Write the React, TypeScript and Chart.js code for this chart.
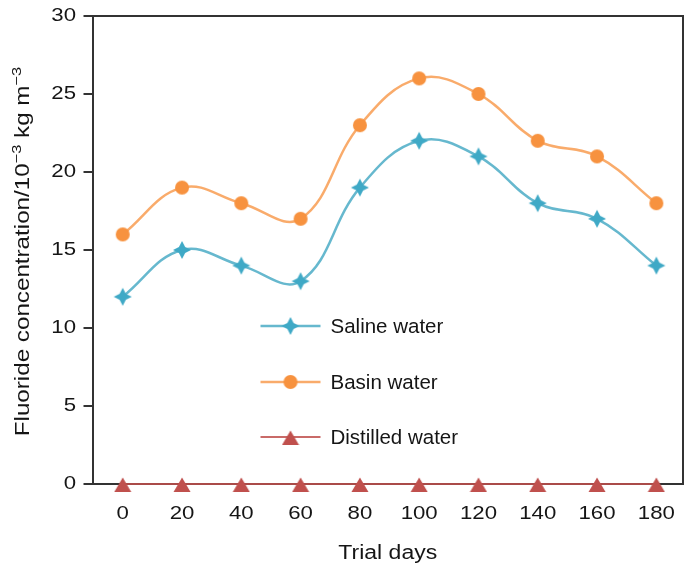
import React, { useEffect, useRef } from 'react';
import { Chart, registerables } from 'chart.js';

Chart.register(...registerables);

const days = [0, 20, 40, 60, 80, 100, 120, 140, 160, 180];
const saline = [12, 15, 14, 13, 19, 22, 21, 18, 17, 14];
const basin = [16, 19, 18, 17, 23, 26, 25, 22, 21, 18];
const distilled = [0, 0, 0, 0, 0, 0, 0, 0, 0, 0];
const yTicks = [0, 5, 10, 15, 20, 25, 30];
const seriesNames = ['Saline water', 'Basin water', 'Distilled water'];
const xTitle = 'Trial days';
const yTitleParts = [
  { t: 'Fluoride concentration/10', sup: false },
  { t: '\u22123', sup: true },
  { t: ' kg m', sup: false },
  { t: '\u22123', sup: true },
];

const FONT = '"Liberation Sans", Arial, Helvetica, sans-serif';
const TEXT = '#151515';
const AXIS = '#333333';
const BLUE = '#3fa9c6';
const ORANGE = '#f7923f';
const RED = '#c0504d';

function makeStar(color: string) {
  const c = document.createElement('canvas');
  const s = 20;
  c.width = s;
  c.height = s;
  const ctx = c.getContext('2d')!;
  const cx = s / 2;
  const R = 9;
  const r = 4.4;
  ctx.beginPath();
  for (let i = 0; i < 8; i++) {
    const ang = -Math.PI / 2 + (i * Math.PI) / 4;
    const rr = i % 2 === 0 ? R : r;
    ctx.lineTo(cx + rr * Math.cos(ang), cx + rr * Math.sin(ang));
  }
  ctx.closePath();
  ctx.fillStyle = color;
  ctx.fill();
  return c;
}

function makeCircle(color: string) {
  const c = document.createElement('canvas');
  c.width = 16;
  c.height = 16;
  const ctx = c.getContext('2d')!;
  ctx.beginPath();
  ctx.arc(8, 8, 7, 0, Math.PI * 2);
  ctx.fillStyle = color;
  ctx.fill();
  return c;
}

function makeTriangle(color: string) {
  const c = document.createElement('canvas');
  c.width = 18;
  c.height = 18;
  const ctx = c.getContext('2d')!;
  ctx.beginPath();
  ctx.moveTo(9, 2.5);
  ctx.lineTo(17.5, 17);
  ctx.lineTo(0.5, 17);
  ctx.closePath();
  ctx.fillStyle = color;
  ctx.fill();
  return c;
}

type Part = { t: string; sup: boolean };

function drawParts(
  ctx: CanvasRenderingContext2D,
  parts: Part[],
  x: number,
  y: number,
  size: number,
  align: 'left' | 'center' | 'right',
  baseline: CanvasTextBaseline,
  sx: number,
  rotate: number
) {
  ctx.save();
  ctx.translate(x, y);
  if (rotate) ctx.rotate(rotate);
  ctx.scale(sx, 1);
  const fontOf = (p: Part) => `${p.sup ? size * 0.68 : size}px ${FONT}`;
  const widths = parts.map((p) => {
    ctx.font = fontOf(p);
    return ctx.measureText(p.t).width;
  });
  const total = widths.reduce((a, b) => a + b, 0);
  let cx = align === 'center' ? -total / 2 : align === 'right' ? -total : 0;
  ctx.textAlign = 'left';
  ctx.textBaseline = baseline;
  ctx.fillStyle = TEXT;
  parts.forEach((p, i) => {
    ctx.font = fontOf(p);
    ctx.fillText(p.t, cx, p.sup ? -size * 0.4 : 0);
    cx += widths[i];
  });
  ctx.restore();
}

export default function App() {
  const ref = useRef<HTMLCanvasElement>(null);

  useEffect(() => {
    if (!ref.current) return;
    const star = makeStar(BLUE);
    const circle = makeCircle(ORANGE);
    const tri = makeTriangle(RED);
    const markers = [star, circle, tri];

    const textPlugin = {
      id: 'customText',
      afterDraw(chart: any) {
        const { ctx, chartArea } = chart;
        const xs = chart.scales.x;
        const ys = chart.scales.y;
        // frame (top + right)
        ctx.save();
        ctx.strokeStyle = AXIS;
        ctx.lineWidth = 2;
        ctx.beginPath();
        ctx.moveTo(chartArea.left, chartArea.top);
        ctx.lineTo(chartArea.right, chartArea.top);
        ctx.lineTo(chartArea.right, chartArea.bottom);
        ctx.stroke();
        ctx.restore();

        // y tick labels
        yTicks.forEach((v) => {
          drawParts(ctx, [{ t: String(v), sup: false }], chartArea.left - 16.5, ys.getPixelForValue(v), 18.5, 'right', 'middle', 1.2, 0);
        });
        // x tick labels
        days.forEach((d) => {
          drawParts(ctx, [{ t: String(d), sup: false }], xs.getPixelForValue(d), chartArea.bottom + 30, 18.5, 'center', 'middle', 1.2, 0);
        });
        // axis titles
        drawParts(ctx, [{ t: xTitle, sup: false }], (chartArea.left + chartArea.right) / 2, chartArea.bottom + 75, 19.5, 'center', 'alphabetic', 1.18, 0);
        drawParts(ctx, yTitleParts, 29, (chartArea.top + chartArea.bottom) / 2 + 1.5, 19.5, 'center', 'alphabetic', 1.24, -Math.PI / 2);

        // legend
        const lx0 = chartArea.left + 168;
        const lx1 = lx0 + 60;
        const lys = [chartArea.top + 310, chartArea.top + 366, chartArea.top + 421];
        chart.data.datasets.forEach((ds: any, i: number) => {
          const y = lys[i];
          ctx.save();
          ctx.strokeStyle = ds.borderColor;
          ctx.lineWidth = ds.borderWidth;
          ctx.beginPath();
          ctx.moveTo(lx0, y);
          ctx.lineTo(lx1, y);
          ctx.stroke();
          const m = markers[i];
          ctx.drawImage(m, (lx0 + lx1) / 2 - m.width / 2, y - m.height / 2);
          ctx.restore();
          ctx.save();
          ctx.font = `20.5px ${FONT}`;
          ctx.fillStyle = TEXT;
          ctx.textAlign = 'left';
          ctx.textBaseline = 'middle';
          ctx.fillText(ds.label, lx1 + 10, y + 1);
          ctx.restore();
        });
      },
    };

    const toPts = (arr: number[]) => arr.map((v, i) => ({ x: days[i], y: v }));

    const chart = new Chart(ref.current, {
      type: 'line',
      data: {
        datasets: [
          {
            label: seriesNames[0],
            data: toPts(saline),
            borderColor: 'rgba(75,172,198,0.85)',
            borderWidth: 2.5,
            pointStyle: star as any,
            pointRadius: 9,
            tension: 0.4,
            clip: false as any,
          },
          {
            label: seriesNames[1],
            data: toPts(basin),
            borderColor: 'rgba(247,150,70,0.8)',
            borderWidth: 2.5,
            pointStyle: circle as any,
            pointRadius: 8,
            tension: 0.4,
            clip: false as any,
          },
          {
            label: seriesNames[2],
            data: toPts(distilled),
            borderColor: 'rgba(192,80,77,0.85)',
            borderWidth: 2,
            pointStyle: tri as any,
            pointRadius: 9,
            tension: 0.4,
            clip: false as any,
          },
        ],
      },
      options: {
        animation: false,
        responsive: false,
        events: [],
        layout: { autoPadding: false, padding: { top: 16, right: 2, left: 0, bottom: 0 } },
        scales: {
          x: {
            type: 'linear',
            min: -10.2,
            max: 189,
            ticks: { display: false },
            grid: { display: true, drawOnChartArea: false, drawTicks: false, color: AXIS, lineWidth: 2 },
            border: { display: true, color: AXIS, width: 2 },
            afterFit(s: any) {
              s.height = 83;
            },
          },
          y: {
            type: 'linear',
            min: 0,
            max: 30,
            ticks: { display: false, stepSize: 5 },
            grid: { display: true, drawOnChartArea: false, drawTicks: true, tickLength: 9, color: AXIS, lineWidth: 2 },
            border: { display: true, color: AXIS, width: 2 },
            afterFit(s: any) {
              s.width = 92.5;
            },
          },
        },
        plugins: { legend: { display: false }, tooltip: { enabled: false } },
      },
      plugins: [textPlugin],
    } as any);

    return () => chart.destroy();
  }, []);

  return (
    <div style={{ position: 'absolute', left: 0, top: 0, width: 685, height: 567, background: '#fff' }}>
      <canvas ref={ref} width={685} height={567} style={{ display: 'block', width: 685, height: 567 }} />
    </div>
  );
}
